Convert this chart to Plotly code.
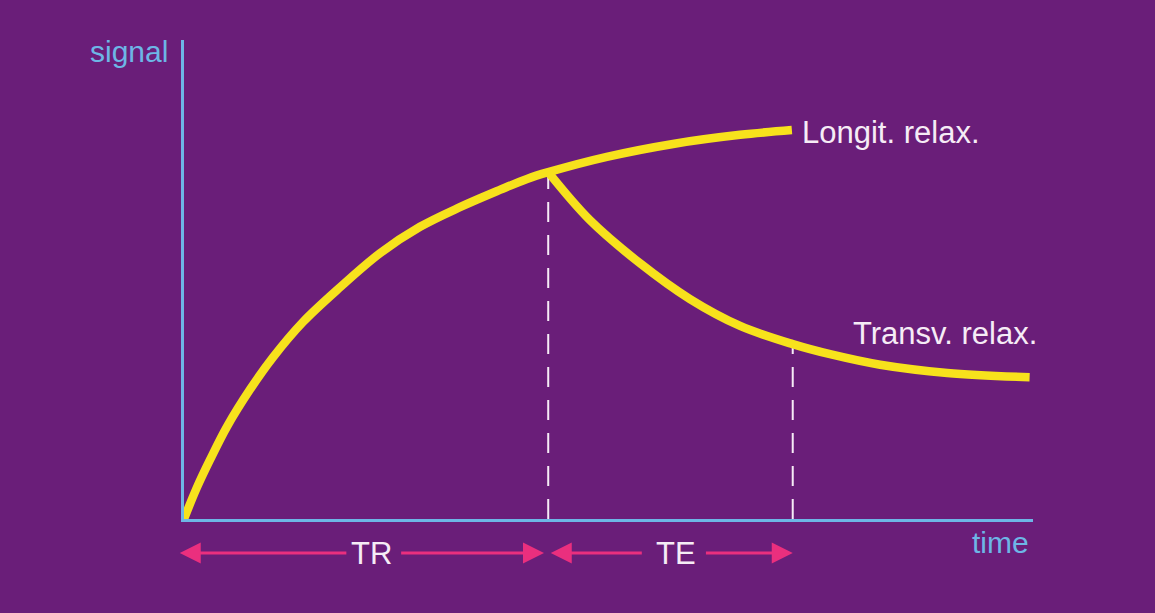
import plotly.graph_objects as go

# ---- data (time in arbitrary units, signal normalised 0..1) ----
longit_time = [0.0, 0.15, 0.31, 0.51, 0.78, 1.05, 1.40, 1.84, 2.31, 2.78, 3.25, 3.72, 4.04, 4.29,
               4.98, 5.76, 6.55, 7.16]
longit_signal = [0.0, 0.065, 0.125, 0.194, 0.271, 0.338, 0.411, 0.484, 0.555, 0.610, 0.651, 0.687,
                 0.710, 0.724, 0.756, 0.783, 0.802, 0.812]

transv_time = [4.29, 4.78, 5.37, 5.96, 6.55, 7.17, 7.61, 8.20, 8.99, 9.96]
transv_signal = [0.724, 0.624, 0.534, 0.459, 0.403, 0.365, 0.344, 0.322, 0.305, 0.296]

TR = 4.29
TE_end = 7.17
TR_signal = 0.724
TE_signal = 0.365

X_MAX = 10.0
labels = {"y": "signal", "x": "time", "longit": "Longit. relax.", "transv": "Transv. relax.",
          "tr": "TR", "te": "TE"}

# ---- styles ----
BG = "#6a1e79"
YELLOW = "#f7e21c"
BLUE = "#6db6e6"
PINK = "#ea2f7e"
WHITE = "#f6ecf6"
FONT = "Liberation Sans, Arial, sans-serif"
FS = 31

L, R, T, B = 184, 122, 40, 94
W, H = 1155, 613
PX_PER_UNIT = (W - L - R) / X_MAX

fig = go.Figure()

# dashed markers for TR and TE
for t, s in [(TR, TR_signal), (TE_end, TE_signal)]:
    fig.add_trace(go.Scatter(x=[t, t], y=[0, s], mode="lines",
                             line=dict(color=WHITE, width=2, dash="20px,13px"),
                             hoverinfo="skip", showlegend=False))

fig.add_trace(go.Scatter(x=longit_time, y=longit_signal, mode="lines",
                         line=dict(color=YELLOW, width=8.5, shape="spline", smoothing=1.0),
                         showlegend=False, name=labels["longit"]))
fig.add_trace(go.Scatter(x=transv_time, y=transv_signal, mode="lines",
                         line=dict(color=YELLOW, width=8.5, shape="spline", smoothing=1.0),
                         showlegend=False, name=labels["transv"]))

ARROW_Y = -0.071
annots = []
# axis labels
annots.append(dict(x=-0.016, y=0.975, xref="paper", yref="paper", text=labels["y"], showarrow=False,
                   xanchor="right", yanchor="middle", font=dict(color=BLUE, size=30, family=FONT)))
annots.append(dict(x=0.962, y=-0.05, xref="paper", yref="paper", text=labels["x"], showarrow=False,
                   xanchor="center", yanchor="middle", font=dict(color=BLUE, size=30, family=FONT)))
# curve labels
annots.append(dict(x=longit_time[-1], y=0.806, xref="x", yref="y", text=labels["longit"], showarrow=False,
                   xanchor="left", yanchor="middle", xshift=8, font=dict(color=WHITE, size=FS, family=FONT)))
annots.append(dict(x=7.86, y=0.388, xref="x", yref="y", text=labels["transv"], showarrow=False,
                   xanchor="left", yanchor="middle", font=dict(color=WHITE, size=FS, family=FONT)))


def span(x0, x1, text, label_x, gap_l, gap_r):
    out = [dict(x=label_x / X_MAX, y=ARROW_Y, xref="paper", yref="paper", text=text, showarrow=False,
                xanchor="center", yanchor="middle", font=dict(color=WHITE, size=FS, family=FONT))]
    for head, tail in [(x0, label_x - gap_l), (x1, label_x + gap_r)]:
        out.append(dict(x=head / X_MAX, y=ARROW_Y, ax=(tail - head) * PX_PER_UNIT, ay=0,
                        xref="paper", yref="paper", axref="pixel", ayref="pixel",
                        text="", showarrow=True, arrowhead=2,
                        arrowsize=1.4, arrowwidth=3, arrowcolor=PINK, standoff=0, startstandoff=0))
    return out


annots += span(-0.05, TR - 0.05, labels["tr"], 2.21, 0.28, 0.33)
annots += span(TR + 0.03, TE_end, labels["te"], 5.80, 0.39, 0.33)

fig.update_layout(
    width=W, height=H,
    paper_bgcolor=BG, plot_bgcolor=BG,
    margin=dict(l=L, r=R, t=T, b=B),
    annotations=annots,
    xaxis=dict(range=[0, X_MAX], showline=True, linecolor=BLUE, linewidth=2.5, showgrid=False,
               zeroline=False, showticklabels=False, ticks="", fixedrange=True),
    yaxis=dict(range=[0, 1], showline=True, linecolor=BLUE, linewidth=2.5, showgrid=False,
               zeroline=False, showticklabels=False, ticks="", fixedrange=True),
)

fig.write_html("out.html", config={"displayModeBar": False},
               post_script="document.body.style.margin='0px';document.body.style.background='" + BG + "';")
